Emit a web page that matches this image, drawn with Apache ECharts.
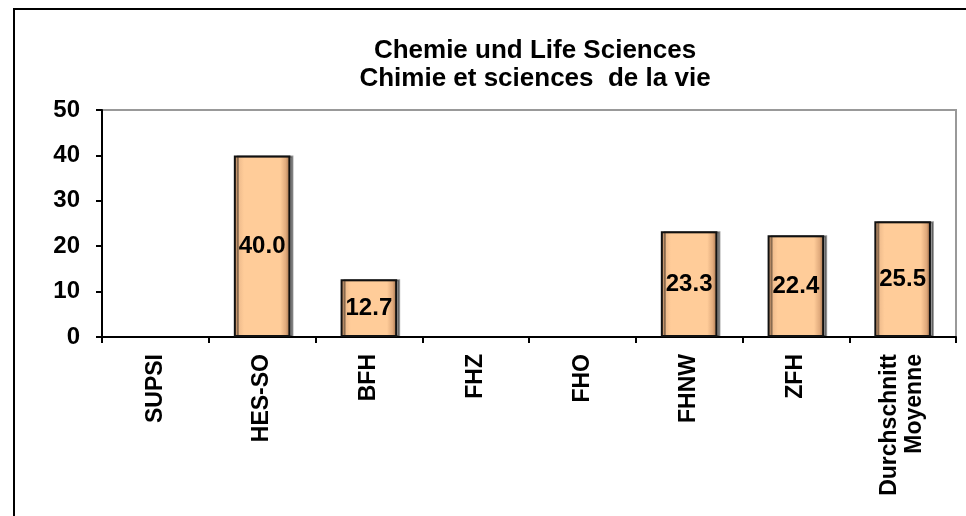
<!DOCTYPE html>
<html>
<head>
<meta charset="utf-8">
<script src="https://cdn.jsdelivr.net/npm/echarts@6/dist/echarts.min.js"></script>
<style>
  html, body { margin: 0; padding: 0; background: #fff; }
  #chart { width: 966px; height: 516px; }
</style>
</head>
<body>
<div id="chart"></div>
<script>
// Hochschulen / Kategorien
var schools = ["SUPSI", "HES-SO", "BFH", "FHZ", "FHO", "FHNW", "ZFH", "Durchschnitt\nMoyenne"];
// Werte (leere Kategorien ohne Balken)
var values = [null, 40.0, 12.7, null, null, 23.3, 22.4, 25.5];
var yTicks = [0, 10, 20, 30, 40, 50];
var titleLines = ["Chemie und Life Sciences", "Chimie et sciences  de la vie"];

var font = "Arial, 'Liberation Sans', sans-serif";

// Bevel-Effekt der Balken
var barFill = new echarts.graphic.LinearGradient(0, 0, 1, 0, [
  { offset: 0, color: "#a87650" },
  { offset: 0.08, color: "#eebb8c" },
  { offset: 0.18, color: "#ffcc99" },
  { offset: 0.82, color: "#ffcc99" },
  { offset: 0.92, color: "#e0aa7c" },
  { offset: 1, color: "#946440" }
]);

var chart = echarts.init(document.getElementById("chart"));

var option = {
  backgroundColor: "#fff",
  animation: false,
  title: {
    text: titleLines.join("\n"),
    left: 530,
    top: 32,
    textAlign: "center",
    textStyle: {
      fontFamily: font,
      fontSize: 26,
      fontWeight: "bold",
      color: "#000",
      lineHeight: 28
    }
  },
  graphic: [
    {
      // Rahmen um das Diagramm
      type: "rect",
      shape: { x: 14, y: 9, width: 970, height: 520 },
      style: { fill: null, stroke: "#000", lineWidth: 2 }
    },
    {
      // Zeichnungsfläche oben/rechts grau
      type: "polyline",
      shape: { points: [[102, 110], [956, 110], [956, 337]] },
      style: { fill: null, stroke: "#999", lineWidth: 2 }
    }
  ],
  grid: {
    left: 102,
    right: 10,
    top: 110,
    bottom: 179,
    containLabel: false
  },
  xAxis: {
    type: "category",
    data: schools,
    axisLine: { lineStyle: { color: "#000", width: 2 } },
    axisTick: { show: true, alignWithLabel: false, length: 6, lineStyle: { color: "#000", width: 2 } },
    axisLabel: {
      rotate: 90,
      interval: 0,
      margin: 17,
      fontFamily: font,
      fontSize: 23,
      fontWeight: "bold",
      color: "#000",
      lineHeight: 25
    }
  },
  yAxis: {
    type: "value",
    min: yTicks[0],
    max: yTicks[yTicks.length - 1],
    interval: 10,
    splitLine: { show: false },
    axisLine: { show: true, lineStyle: { color: "#000", width: 2 } },
    axisTick: { show: true, length: 6, lineStyle: { color: "#000", width: 2 } },
    axisLabel: {
      margin: 22,
      fontFamily: font,
      fontSize: 24,
      fontWeight: "bold",
      color: "#000"
    }
  },
  series: [
    {
      type: "bar",
      data: values,
      barWidth: "53%",
      itemStyle: {
        color: barFill,
        borderColor: "#111",
        borderWidth: 2,
        shadowColor: "rgba(0,0,0,0.4)",
        shadowOffsetX: 3,
        shadowOffsetY: 0,
        shadowBlur: 0
      },
      label: {
        show: true,
        position: "inside",
        formatter: function (p) { return p.value == null ? "" : p.value.toFixed(1); },
        fontFamily: font,
        fontSize: 24,
        fontWeight: "bold",
        color: "#000"
      }
    }
  ]
};

chart.setOption(option);
</script>
</body>
</html>
